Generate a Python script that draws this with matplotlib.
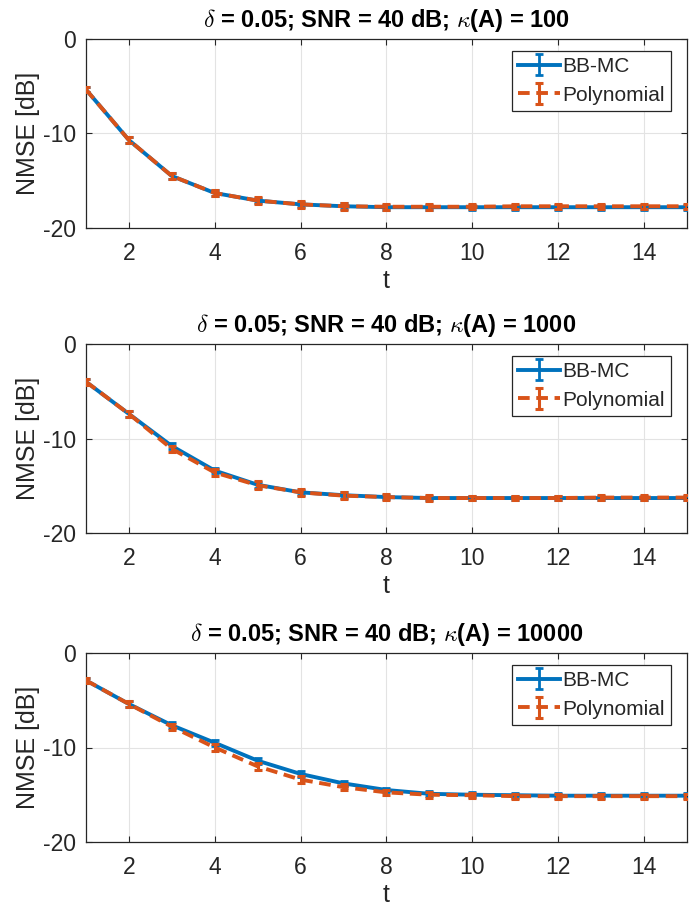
import numpy as np
import matplotlib
matplotlib.use("Agg")
import matplotlib.pyplot as plt

plt.rcParams['font.family'] = ['Liberation Sans', 'DejaVu Sans']
plt.rcParams['mathtext.fontset'] = 'cm'
plt.rcParams['axes.unicode_minus'] = False

# iterations
t = [1, 2, 3, 4, 5, 6, 7, 8, 9, 10, 11, 12, 13, 14, 15]

# condition numbers of the three panels
kappas = ['100', '1000', '10000']

# NMSE [dB]
bb_mc = [
    [-5.35, -10.7, -14.5, -16.3, -17.1, -17.5, -17.7, -17.8, -17.8, -17.8, -17.8, -17.8, -17.8, -17.8, -17.8],
    [-4.0, -7.4, -10.8, -13.4, -14.9, -15.7, -16.0, -16.2, -16.3, -16.3, -16.3, -16.3, -16.3, -16.3, -16.3],
    [-2.9, -5.4, -7.65, -9.5, -11.4, -12.8, -13.8, -14.5, -14.9, -15.0, -15.05, -15.1, -15.1, -15.1, -15.1],
]
poly = [
    [-5.35, -10.7, -14.5, -16.3, -17.1, -17.5, -17.7, -17.75, -17.75, -17.75, -17.7, -17.7, -17.7, -17.7, -17.7],
    [-4.0, -7.4, -11.1, -13.6, -14.95, -15.7, -16.05, -16.2, -16.3, -16.3, -16.3, -16.3, -16.25, -16.25, -16.25],
    [-2.9, -5.4, -7.8, -10.0, -12.0, -13.4, -14.2, -14.75, -15.0, -15.05, -15.15, -15.15, -15.15, -15.15, -15.15],
]
bb_err = [0.3, 0.3, 0.3, 0.3, 0.3, 0.3, 0.3, 0.25, 0.25, 0.25, 0.25, 0.25, 0.25, 0.25, 0.25]
poly_err = [0.3, 0.3, 0.3, 0.35, 0.4, 0.4, 0.35, 0.3, 0.3, 0.25, 0.25, 0.25, 0.25, 0.25, 0.25]

blue = '#0072BD'
orange = '#D95319'
dark = '#262626'

fig = plt.figure(figsize=(6.94, 9.09), dpi=100)
W, H = 694, 909
tops = [39, 344, 653]
ax_h = 189

for i in range(3):
    top = tops[i]
    ax = fig.add_axes([86 / W, 1 - (top + ax_h) / H, 601 / W, ax_h / H])
    ax.errorbar(t, bb_mc[i], yerr=bb_err, color=blue, lw=2.8, elinewidth=2.0,
                capsize=2.6, capthick=2.0, label='BB-MC', zorder=3)
    ax.errorbar(t, poly[i], yerr=poly_err, color=orange, lw=2.8, elinewidth=2.2,
                capsize=2.6, capthick=2.2, ls=(0, (3.0, 1.7)), label='Polynomial', zorder=4)
    ax.set_xlim(1, 15)
    ax.set_ylim(-20, 0)
    ax.set_xticks([2, 4, 6, 8, 10, 12, 14])
    ax.set_yticks([-20, -10, 0])
    ax.grid(True, color='#e3e3e3', lw=0.8)
    ax.set_axisbelow(True)
    ax.tick_params(direction='in', top=True, right=True, length=4, width=0.8,
                   labelsize=16.5, colors=dark)
    ax.tick_params(axis='x', pad=10)
    ax.tick_params(axis='y', pad=7)
    for s in ax.spines.values():
        s.set_color(dark)
        s.set_linewidth(0.9)
    ax.set_xlabel('t', fontsize=18, color=dark, labelpad=3)
    ax.set_ylabel('NMSE [dB]', fontsize=18, color=dark, labelpad=2)
    ax.set_title(r'$\delta$ = 0.05; SNR = 40 dB; $\kappa$(A) = ' + kappas[i],
                 fontsize=17, fontweight='bold', color='black', pad=9)
    leg = ax.legend(loc='upper right', bbox_to_anchor=(0.973, 0.937), fontsize=15,
                    fancybox=False, framealpha=1, edgecolor=dark, handlelength=2.0,
                    handletextpad=0.1, borderpad=0.3, borderaxespad=0,
                    labelspacing=0.45)
    leg.get_frame().set_linewidth(0.9)
    for txt in leg.get_texts():
        txt.set_color(dark)

fig.savefig('out.png', dpi=100)
